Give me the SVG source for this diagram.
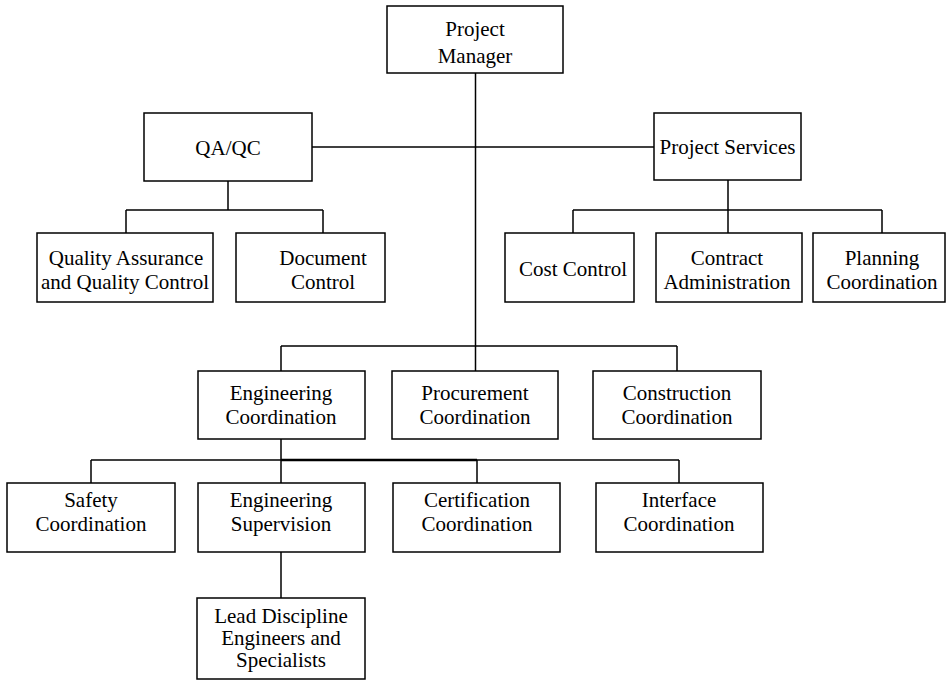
<svg xmlns="http://www.w3.org/2000/svg" width="949" height="681" viewBox="0 0 949 681">
<style>
.box{fill:#fff;stroke:#000;stroke-width:1.5}
.ln{fill:none;stroke:#000;stroke-width:1.5}
text{font-family:"Liberation Serif","Times New Roman",serif;font-size:21px;fill:#000;text-anchor:middle}
</style>
<rect width="949" height="681" fill="#fff"/>
<g id="connectors">
<path class="ln" d="M475.5,73V371"/>
<path class="ln" d="M312,147H654"/>
<path class="ln" d="M228,181V210M126,210H323M126,210V233M323,210V233"/>
<path class="ln" d="M728,180V233M573,210H882M573,210V233M882,210V233"/>
<path class="ln" d="M281,346H677M281,346V371M677,346V371"/>
<path class="ln" d="M281,439V483M91,460H281M91,460V483M477,460V483M477,460H679M679,460V483"/>
<path class="ln" d="M281,460H477" style="stroke-width:2.4"/>
<path class="ln" d="M281,552V598"/>
</g>
<g id="project-manager"><rect class="box" x="387" y="6" width="176" height="67"/><text x="475" y="36">Project</text><text x="475" y="63">Manager</text></g>
<g id="qaqc"><rect class="box" x="144" y="113" width="168" height="68"/><text x="228" y="155">QA/QC</text></g>
<g id="project-services"><rect class="box" x="654" y="113" width="147" height="67"/><text x="727.5" y="154">Project Services</text></g>
<g id="quality-assurance"><rect class="box" x="37" y="233" width="176" height="69"/><text x="126" y="265">Quality Assurance</text><text x="125" y="289">and Quality Control</text></g>
<g id="document-control"><rect class="box" x="236" y="233" width="149" height="69"/><text x="323" y="265">Document</text><text x="323" y="289">Control</text></g>
<g id="cost-control"><rect class="box" x="505" y="233" width="129" height="69"/><text x="573" y="276">Cost Control</text></g>
<g id="contract-administration"><rect class="box" x="656" y="233" width="146" height="69"/><text x="727" y="265">Contract</text><text x="727" y="289">Administration</text></g>
<g id="planning-coordination"><rect class="box" x="813" y="233" width="132" height="69"/><text x="882" y="265">Planning</text><text x="882" y="289">Coordination</text></g>
<g id="engineering-coordination"><rect class="box" x="198" y="371" width="167" height="68"/><text x="281" y="400">Engineering</text><text x="281" y="424">Coordination</text></g>
<g id="procurement-coordination"><rect class="box" x="392" y="371" width="166" height="68"/><text x="475" y="400">Procurement</text><text x="475" y="424">Coordination</text></g>
<g id="construction-coordination"><rect class="box" x="593" y="371" width="168" height="68"/><text x="677" y="400">Construction</text><text x="677" y="424">Coordination</text></g>
<g id="safety-coordination"><rect class="box" x="7" y="483" width="168" height="69"/><text x="91" y="507">Safety</text><text x="91" y="531">Coordination</text></g>
<g id="engineering-supervision"><rect class="box" x="198" y="483" width="167" height="69"/><text x="281" y="507">Engineering</text><text x="281" y="531">Supervision</text></g>
<g id="certification-coordination"><rect class="box" x="393" y="483" width="167" height="69"/><text x="477" y="507">Certification</text><text x="477" y="531">Coordination</text></g>
<g id="interface-coordination"><rect class="box" x="596" y="483" width="167" height="69"/><text x="679" y="507">Interface</text><text x="679" y="531">Coordination</text></g>
<g id="lead-discipline"><rect class="box" x="197" y="598" width="168" height="81"/><text x="281" y="623">Lead Discipline</text><text x="281" y="645">Engineers and</text><text x="281" y="667">Specialists</text></g>
</svg>
